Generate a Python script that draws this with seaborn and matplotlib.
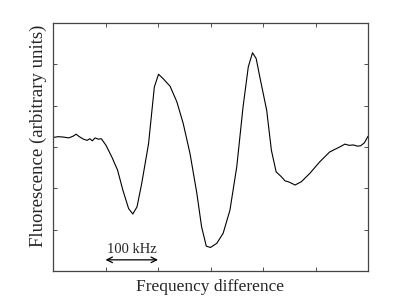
import numpy as np
import pandas as pd
import matplotlib
matplotlib.use("Agg")
import matplotlib.pyplot as plt
import seaborn as sns

# trace (axis units: 6 tick intervals each way)
freq = [0.00, 0.10, 0.20, 0.30, 0.38, 0.44, 0.50, 0.58, 0.65, 0.70, 0.75, 0.80,
        0.86, 0.92, 1.01, 1.12, 1.23, 1.33, 1.44, 1.52, 1.60, 1.69, 1.82, 1.93,
        2.01, 2.10, 2.23, 2.36, 2.48, 2.61, 2.74, 2.83, 2.92, 3.00, 3.12, 3.24,
        3.37, 3.50, 3.62, 3.72, 3.80, 3.87, 3.94, 4.07, 4.16, 4.25, 4.35, 4.42,
        4.48, 4.55, 4.61, 4.73, 4.89, 5.08, 5.27, 5.46, 5.56, 5.64, 5.72, 5.80,
        5.86, 5.93, 6.00]
fluor = [3.23, 3.25, 3.24, 3.22, 3.26, 3.31, 3.25, 3.19, 3.16, 3.20, 3.15, 3.22,
         3.19, 3.20, 3.04, 2.76, 2.44, 1.96, 1.51, 1.38, 1.55, 2.12, 3.08, 4.45,
         4.76, 4.65, 4.47, 4.09, 3.57, 2.84, 1.88, 1.07, 0.60, 0.57, 0.67, 0.91,
         1.47, 2.52, 3.97, 4.94, 5.28, 5.14, 4.69, 3.89, 2.92, 2.40, 2.28, 2.18,
         2.16, 2.12, 2.08, 2.16, 2.36, 2.64, 2.88, 3.00, 3.07, 3.04, 3.05, 3.02,
         3.03, 3.10, 3.26]

df = pd.DataFrame({"freq": freq, "fluor": fluor})

sns.set_style("ticks")
plt.rcParams["font.family"] = ["Liberation Serif", "DejaVu Serif"]

fig = plt.figure(figsize=(4.07, 3.06), dpi=100)
ax = fig.add_axes([53 / 407, 35 / 306, 315 / 407, 248 / 306])

sns.lineplot(data=df, x="freq", y="fluor", ax=ax, color="black", linewidth=0.8)

ax.set_xlim(0, 6)
ax.set_ylim(0, 6)
ax.set_xticks(range(7))
ax.set_yticks(range(7))
ax.set_xticklabels([])
ax.set_yticklabels([])
ax.tick_params(direction="in", length=3, width=0.6, top=True, right=True,
               color="#333333")
for s in ax.spines.values():
    s.set_linewidth(0.9)
    s.set_color("#444444")

ax.set_xlabel("Frequency difference", fontsize=12.5, labelpad=2)
ax.set_ylabel("Fluorescence (arbitrary units)", fontsize=13.5)
ax.yaxis.set_label_coords(-0.018, 0.545)

# 100 kHz scale bar
ax.annotate("", xy=(2.0, 0.27), xytext=(1.0, 0.27),
            arrowprops=dict(arrowstyle="<->", color="black", lw=0.9,
                            shrinkA=0, shrinkB=0))
ax.text(1.5, 0.36, "100 kHz", ha="center", va="bottom", fontsize=10.5)

fig.savefig("out.png", dpi=100)
